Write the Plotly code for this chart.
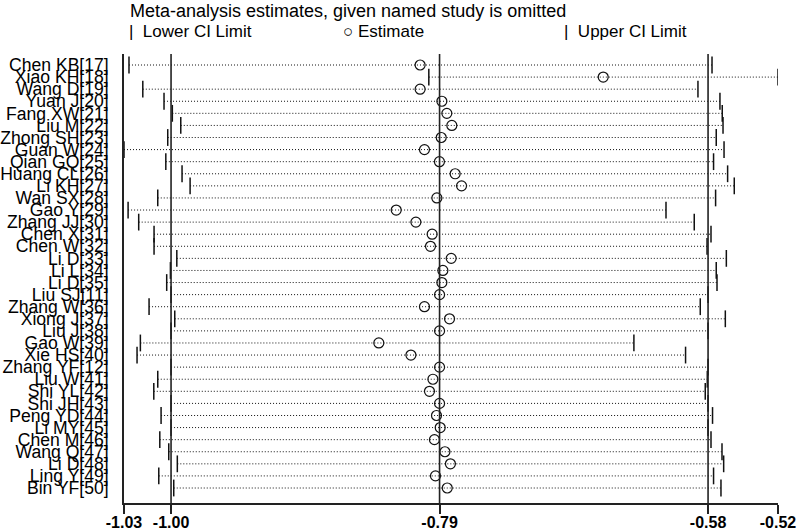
import plotly.graph_objects as go

studies = ["Chen KB[17]", "Xiao KH[18]", "Wang D[19]", "Yuan J[20]", "Fang XW[21]", "Liu M[22]",
           "Zhong SH[23]", "Guan W[24]", "Qian GQ[25]", "Huang CL[26]", "Li KH[27]", "Wan SX[28]",
           "Gao Y[29]", "Zhang JJ[30]", "Chen X[31]", "Chen W[32]", "Li D[33]", "Li L[34]",
           "Li D[35]", "Liu SJ[11]", "Zhang W[36]", "Xiong J[37]", "Liu J[38]", "Gao W[39]",
           "Xie HS[40]", "Zhang YF[12]", "Liu W[41]", "Shi YL[42]", "Shi JH[43]", "Peng YD[44]",
           "Li MY[45]", "Chen M[46]", "Wang Q[47]", "Li D[48]", "Ling Y[49]", "Bin YF[50]"]

lower = [-1.0329, -0.7984, -1.0221, -1.0055, -0.9990, -0.9924,
         -1.0026, -1.0368, -1.0041, -0.9914, -0.9851, -1.0104,
         -1.0336, -1.0253, -1.0133, -1.0133, -0.9955, -1.0005,
         -1.0034, -1.0000, -1.0172, -0.9971, -1.0000, -1.0240,
         -1.0266, -1.0000, -1.0104, -1.0135, -1.0000, -1.0078,
         -1.0000, -1.0088, -1.0018, -0.9951, -1.0096, -0.9979]

estimate = [-0.8052, -0.6620, -0.8052, -0.7882, -0.7843, -0.7804,
            -0.7887, -0.8018, -0.7901, -0.7778, -0.7728, -0.7921,
            -0.8239, -0.8085, -0.7958, -0.7971, -0.7809, -0.7874,
            -0.7882, -0.7900, -0.8018, -0.7822, -0.7900, -0.8375,
            -0.8124, -0.7900, -0.7952, -0.7979, -0.7900, -0.7924,
            -0.7895, -0.7940, -0.7858, -0.7815, -0.7932, -0.7840]

upper = [-0.5769, -0.5253, -0.5879, -0.5707, -0.5689, -0.5683,
         -0.5736, -0.5675, -0.5757, -0.5647, -0.5595, -0.5741,
         -0.6129, -0.5908, -0.5777, -0.5808, -0.5657, -0.5736,
         -0.5730, -0.5800, -0.5861, -0.5665, -0.5800, -0.6380,
         -0.5976, -0.5800, -0.5806, -0.5822, -0.5800, -0.5765,
         -0.5800, -0.5777, -0.5691, -0.5678, -0.5757, -0.5699]

overall = [-1.00, -0.79, -0.58]          # combined lower CI, estimate, upper CI
tick_text = ["-1.03", "-1.00", "-0.79", "-0.58", "-0.52"]

title_text = "Meta-analysis estimates, given named study is omitted"
legend_labels = ["Lower CI Limit", "Estimate", "Upper CI Limit"]

FONT = "Liberation Sans, Arial, sans-serif"
INK = "#111111"
n = len(studies)
ypos = [n - i for i in range(n)]

# dotted CI lines
lx, ly = [], []
for lo, hi, y in zip(lower, upper, ypos):
    lx += [lo, hi, None]
    ly += [y, y, None]

fig = go.Figure()
fig.add_trace(go.Scatter(x=lx, y=ly, mode="lines",
                         line=dict(color=INK, width=1, dash="1px,2px"),
                         showlegend=False, hoverinfo="skip"))
fig.add_trace(go.Scatter(x=lower, y=ypos, mode="markers", name=legend_labels[0],
                         marker=dict(symbol="line-ns", size=12, line=dict(color=INK, width=1.5)),
                         showlegend=False))
fig.add_trace(go.Scatter(x=upper, y=ypos, mode="markers", name=legend_labels[2],
                         marker=dict(symbol="line-ns", size=12, line=dict(color=INK, width=1.5)),
                         showlegend=False))
fig.add_trace(go.Scatter(x=estimate, y=ypos, mode="markers", name=legend_labels[1],
                         marker=dict(symbol="circle-open", size=10, color=INK,
                                     line=dict(color=INK, width=1.2)),
                         showlegend=False))

for v in overall:
    fig.add_shape(type="line", x0=v, x1=v, xref="x", yref="paper", y0=0, y1=1,
                  line=dict(color="#222222", width=1.6), layer="above")

xmin, xmax = min(lower), max(upper)
W, H = 800, 530
ml, mr, mt, mb = 124, 22, 54, 27
plot_h = H - mt - mb

def ypaper(px):
    return (H - mb - px) / plot_h

def xpaper(px):
    return (px - ml) / (W - ml - mr)

leg_y = ypaper(31)
leg_font = dict(family=FONT, size=17, color="black")
fig.add_annotation(x=xpaper(127), y=leg_y, xref="paper", yref="paper", xanchor="left", yanchor="middle",
                   text="|\u00a0\u00a0" + legend_labels[0], showarrow=False, font=leg_font)
fig.add_annotation(x=xpaper(341), y=leg_y, xref="paper", yref="paper", xanchor="left", yanchor="middle",
                   text="\u25cb\u00a0" + legend_labels[1], showarrow=False, font=leg_font)
fig.add_annotation(x=xpaper(562), y=leg_y, xref="paper", yref="paper", xanchor="left", yanchor="middle",
                   text="|\u00a0\u00a0" + legend_labels[2], showarrow=False, font=leg_font)

fig.update_layout(
    width=W, height=H,
    margin=dict(l=ml, r=mr, t=mt, b=mb, autoexpand=False),
    paper_bgcolor="white", plot_bgcolor="white",
    title=dict(text=title_text, x=130 / W, xref="container", xanchor="left",
               y=1 - 11 / H, yref="container", yanchor="middle",
               font=dict(family=FONT, size=18, color="black")),
    xaxis=dict(range=[xmin, xmax], tickvals=[xmin] + overall + [xmax], ticktext=tick_text,
               automargin=False,
               showgrid=False, zeroline=False, showline=True, linecolor="#222222", linewidth=1.5,
               ticks="outside", ticklen=9, tickwidth=1.5, tickcolor="#222222",
               ticklabelstandoff=-5,
               tickfont=dict(family=FONT, size=16, color="black", weight="bold")),
    yaxis=dict(range=[1 - 15 / 12.086, n + 0.91], tickvals=ypos, ticktext=studies,
               automargin=False,
               showgrid=False, zeroline=False, showline=True, linecolor="#222222", linewidth=1.5,
               ticks="", ticklabelstandoff=10,
               tickfont=dict(family=FONT, size=17.6, color="black")),
    showlegend=False,
)

fig.write_html("out.html", config={"displayModeBar": False},
               post_script="document.body.style.margin='0';document.body.style.overflow='hidden';")
